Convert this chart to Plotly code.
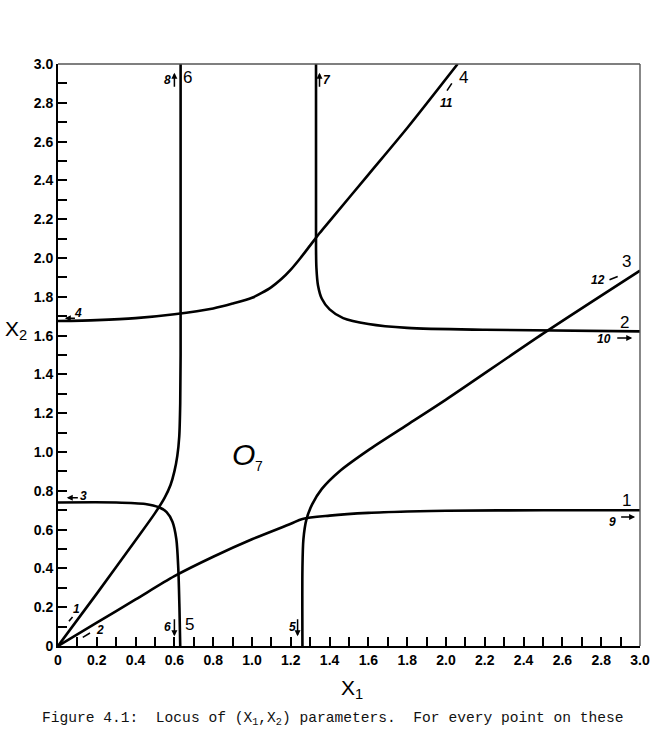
import plotly.graph_objects as go

# ---- data ----
# curve from origin (steep) turning into vertical line near x1=0.63
a_x = [0, 0.2, 0.4, 0.5, 0.55, 0.58, 0.60, 0.615, 0.625, 0.63, 0.632, 0.632]
a_y = [0, 0.27, 0.545, 0.685, 0.765, 0.83, 0.9, 0.98, 1.08, 1.25, 1.5, 3.0]
# curve from origin (shallow) saturating at ~0.70
b_x = [0, 0.2, 0.4, 0.6, 0.8, 1.0, 1.2, 1.26, 1.4, 1.6, 1.8, 2.0, 2.5, 3.0]
b_y = [0, 0.12, 0.24, 0.36, 0.46, 0.55, 0.63, 0.655, 0.672, 0.686, 0.693, 0.697, 0.70, 0.70]
# horizontal at 0.74 bending down to vertical near x1=0.63
c_x = [0, 0.3, 0.45, 0.52, 0.56, 0.59, 0.61, 0.62, 0.626, 0.63]
c_y = [0.74, 0.74, 0.732, 0.715, 0.69, 0.64, 0.55, 0.4, 0.2, 0.0]
# horizontal at 1.675 rising to top near x1=2.06
d_x = [0, 0.2, 0.4, 0.6, 0.8, 0.9, 1.0, 1.05, 1.1, 1.15, 1.2, 1.25, 1.3, 1.35, 1.4, 1.6, 1.8, 2.06]
d_y = [1.675, 1.68, 1.69, 1.71, 1.74, 1.765, 1.795, 1.82, 1.85, 1.89, 1.94, 2.0, 2.065, 2.13, 2.19, 2.43, 2.67, 3.0]
# vertical near x1=1.33 from top bending into horizontal at ~1.62
e_x = [1.33, 1.33, 1.332, 1.34, 1.36, 1.40, 1.47, 1.6, 1.8, 2.2, 3.0]
e_y = [3.0, 2.05, 1.95, 1.86, 1.79, 1.735, 1.69, 1.66, 1.64, 1.63, 1.622]
# vertical near x1=1.26 from bottom bending into rising line to (3.0, 1.935)
f_x = [1.26, 1.26, 1.265, 1.28, 1.31, 1.36, 1.45, 1.6, 1.8, 2.0, 2.5, 3.0]
f_y = [0.0, 0.4, 0.55, 0.65, 0.73, 0.81, 0.9, 1.01, 1.14, 1.27, 1.61, 1.935]

curves = [(a_x, a_y), (b_x, b_y), (c_x, c_y), (d_x, d_y), (e_x, e_y), (f_x, f_y)]

tick_vals = [round(i * 0.1, 1) for i in range(31)]
tick_text = [("0" if v == 0 else f"{v:.1f}") if i % 2 == 0 else "" for i, v in enumerate(tick_vals)]

# curve-end numbers (large) and hand-written tags (small)
big_labels = [("6", 0.67, 2.93), ("4", 2.09, 2.93), ("3", 2.93, 1.98),
              ("2", 2.92, 1.67), ("1", 2.93, 0.75), ("5", 0.68, 0.11)]
small_labels = [("8", 0.562, 2.915), ("7", 1.385, 2.915), ("11", 2.0, 2.80),
                ("12", 2.785, 1.885), ("10", 2.815, 1.58), ("9", 2.86, 0.64),
                ("6", 0.565, 0.10), ("5", 1.208, 0.10), ("4", 0.105, 1.715),
                ("3", 0.13, 0.772), ("1", 0.095, 0.19), ("2", 0.215, 0.085)]
# hand-drawn arrows (tail x, tail y, head x, head y)
tag_arrows = [(0.60, 2.875, 0.60, 2.955), (1.348, 2.875, 1.348, 2.955),
              (2.875, 1.588, 2.96, 1.588), (2.895, 0.665, 2.975, 0.665),
              (0.60, 0.145, 0.60, 0.05), (1.235, 0.145, 1.235, 0.05),
              (0.095, 1.69, 0.035, 1.69), (0.11, 0.764, 0.045, 0.764)]
dashes = [(0.05, 0.12, 0.075, 0.15), (0.12, 0.04, 0.165, 0.067),
          (2.0, 2.855, 2.03, 2.9), (2.835, 1.885, 2.885, 1.905)]

fig = go.Figure()
for cx, cy in curves:
    fig.add_trace(go.Scatter(x=cx, y=cy, mode="lines",
                             line=dict(color="black", width=2.6, shape="spline", smoothing=0.8),
                             showlegend=False, hoverinfo="skip"))

ann = []
for t, x, y in big_labels:
    ann.append(dict(x=x, y=y, text=t, showarrow=False, xref="x", yref="y",
                    font=dict(family="Liberation Sans, Arial", size=17, color="black")))
for t, x, y in small_labels:
    ann.append(dict(x=x, y=y, text=f"<b><i>{t}</i></b>", showarrow=False, xref="x", yref="y",
                    font=dict(family="Liberation Sans Narrow, Liberation Sans", size=12, color="black")))
for x0, y0, x1, y1 in tag_arrows:
    ann.append(dict(x=x1, y=y1, ax=x0, ay=y0, xref="x", yref="y", axref="x", ayref="y",
                    showarrow=True, arrowhead=2, arrowsize=0.8, arrowwidth=1.5,
                    arrowcolor="black", standoff=0, text=""))
for x0, y0, x1, y1 in dashes:
    ann.append(dict(x=x1, y=y1, ax=x0, ay=y0, xref="x", yref="y", axref="x", ayref="y",
                    showarrow=True, arrowhead=0, arrowwidth=1.6, arrowcolor="black", text=""))
ann.append(dict(x=0.955, y=0.985, text="<i>O</i>", showarrow=False, xref="x", yref="y",
                font=dict(family="Liberation Sans", size=30, color="black")))
ann.append(dict(x=1.035, y=0.93, text="7", showarrow=False, xref="x", yref="y",
                font=dict(family="Liberation Sans", size=14, color="black")))
ann.append(dict(x=-0.05, y=0.543, xref="paper", yref="paper", showarrow=False,
                xanchor="right", yanchor="middle",
                text="X<sub>2</sub>", font=dict(family="Liberation Sans", size=21, color="black")))
ann.append(dict(x=0.505, y=-0.048, xref="paper", yref="paper", showarrow=False,
                xanchor="center", yanchor="top",
                text="X<sub>1</sub>", font=dict(family="Liberation Sans", size=21, color="black")))
ann.append(dict(x=0.473, y=-0.126, xref="paper", yref="paper", showarrow=False,
                xanchor="center", yanchor="middle",
                text="Figure 4.1:  Locus of (X<sub>1</sub>,X<sub>2</sub>) parameters.  For every point on these",
                font=dict(family="Liberation Mono", size=14.6, color="#111")))

axis_common = dict(range=[0, 3], tickmode="array", tickvals=tick_vals, ticktext=tick_text,
                   ticks="inside", ticklen=9, tickwidth=1.6, tickcolor="black",
                   showline=True, linewidth=2, linecolor="black", showgrid=False, zeroline=False,
                   tickfont=dict(family="Liberation Sans Narrow, Liberation Sans", size=14,
                                 color="black", weight="bold"))

fig.update_layout(
    width=666, height=733,
    margin=dict(l=58, r=26, t=64, b=87),
    paper_bgcolor="white", plot_bgcolor="white",
    xaxis=dict(**axis_common),
    yaxis=dict(**axis_common),
    annotations=ann,
    shapes=[
        dict(type="line", xref="paper", yref="paper", x0=0, x1=1, y0=1, y1=1,
             line=dict(color="#555", width=1.4)),
        dict(type="line", xref="paper", yref="paper", x0=1, x1=1, y0=0, y1=1,
             line=dict(color="#555", width=1.4)),
    ],
)

fig.write_html("out.html")
